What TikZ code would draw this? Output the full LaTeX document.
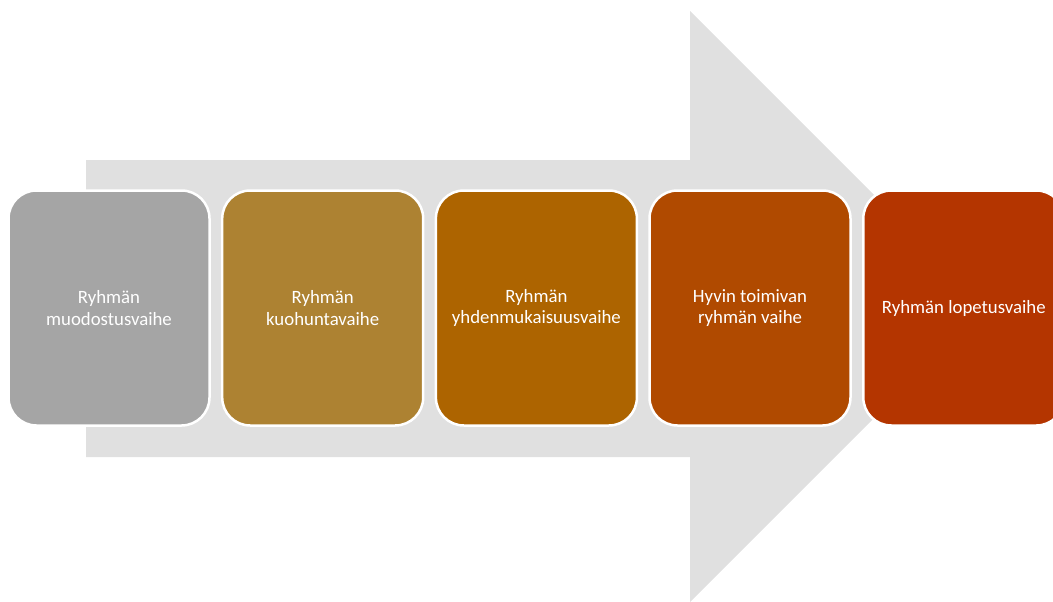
\documentclass[tikz,border=0pt]{standalone}
\usepackage{fontspec}
\setmainfont{Carlito}
\definecolor{arrowgray}{HTML}{E0E0E0}
\definecolor{cA}{HTML}{A5A5A5}
\definecolor{cB}{HTML}{AD8232}
\definecolor{cC}{HTML}{AD6400}
\definecolor{cD}{HTML}{B04A00}
\definecolor{cE}{HTML}{B43500}
\begin{document}
\begin{tikzpicture}[x=1pt,y=-1pt,
  phasebox/.style={draw=white, line width=2.5pt, rounded corners=28pt,
    minimum width=201pt, minimum height=235pt, inner sep=0pt,
    text=white, align=center, font=\fontsize{18.8}{21.5}\selectfont}]
\useasboundingbox (0,0) rectangle (1053,602);
\clip (0,0) rectangle (1053,602);
\fill[arrowgray] (86,160) -- (690,160) -- (690,11) -- (985.5,306.5) -- (690,602) -- (690,457) -- (86,457) -- cycle;
\node[phasebox, fill=cA] (b1) at (109,308) {Ryhmän\\muodostusvaihe};
\node[phasebox, fill=cB] (b2) at (322.7,308) {Ryhmän\\kuohuntavaihe};
\node[phasebox, fill=cC] (b3) at (536.4,308) {Ryhmän\\yhdenmukaisuusvaihe};
\node[phasebox, fill=cD] (b4) at (750,308) {Hyvin toimivan\\ryhmän vaihe};
\node[phasebox, fill=cE] (b5) at (963.8,308) {Ryhmän lopetusvaihe};
\end{tikzpicture}
\end{document}
